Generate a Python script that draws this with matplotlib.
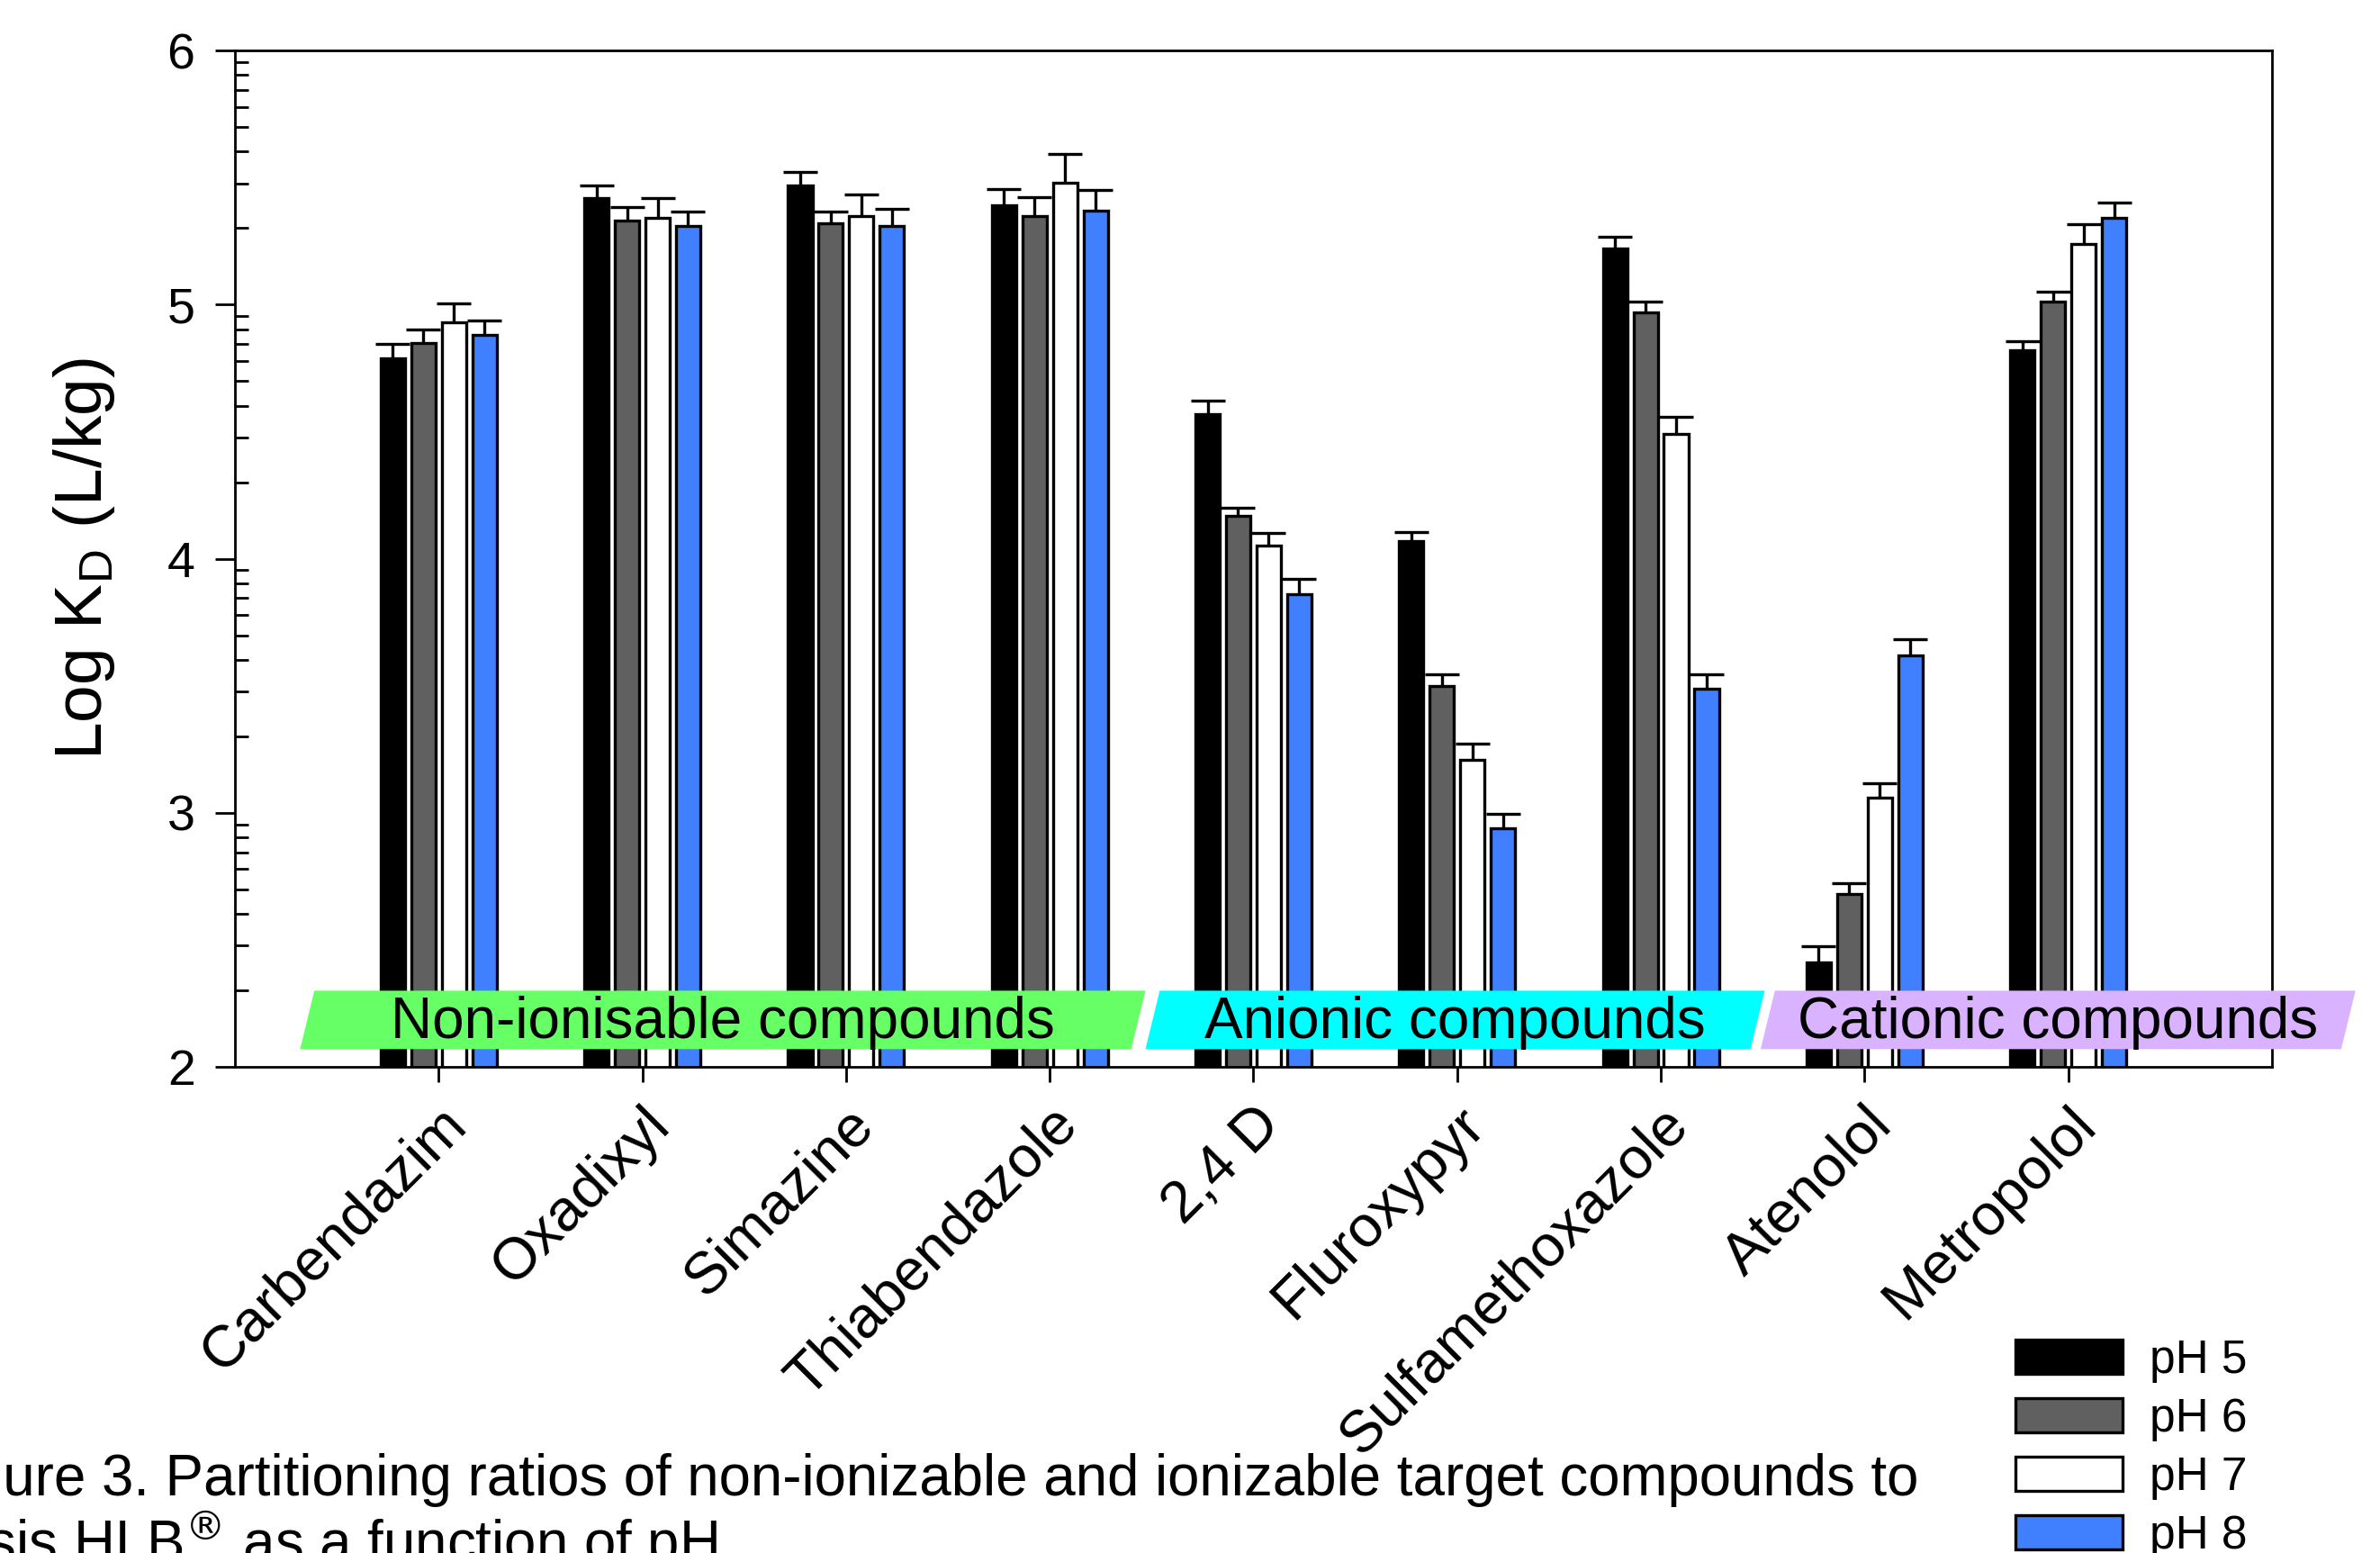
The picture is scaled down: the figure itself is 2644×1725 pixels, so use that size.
import numpy as np
import matplotlib.pyplot as plt
from matplotlib.patches import Polygon, Patch
from matplotlib.ticker import FixedLocator

plt.rcParams['font.family'] = ['Liberation Sans', 'DejaVu Sans']

# Data: log KD per compound at each pH, with upper error
compounds = ['Carbendazim', 'Oxadixyl', 'Simazine', 'Thiabendazole', '2,4 D',
             'Fluroxypyr', 'Sulfamethoxazole', 'Atenolol', 'Metropolol']
ph_labels = ['pH 5', 'pH 6', 'pH 7', 'pH 8']

ph5 = [4.79, 5.42, 5.47, 5.39, 4.57, 4.07, 5.22, 2.41, 4.82]
ph6 = [4.85, 5.33, 5.32, 5.35, 4.17, 3.50, 4.97, 2.68, 5.01]
ph7 = [4.93, 5.34, 5.35, 5.48, 4.05, 3.21, 4.49, 3.06, 5.24]
ph8 = [4.88, 5.31, 5.31, 5.37, 3.86, 2.94, 3.49, 3.62, 5.34]

err5 = [0.054, 0.049, 0.053, 0.066, 0.052, 0.035, 0.046, 0.065, 0.037]
err6 = [0.052, 0.054, 0.047, 0.071, 0.029, 0.046, 0.042, 0.042, 0.040]
err7 = [0.076, 0.079, 0.083, 0.114, 0.050, 0.061, 0.068, 0.058, 0.075]
err8 = [0.059, 0.056, 0.067, 0.080, 0.061, 0.057, 0.055, 0.064, 0.061]

group_names = ['Non-ionisable compounds', 'Anionic compounds', 'Cationic compounds']
group_colors = ['#66FF66', '#00FFFF', '#D9B3FF']

values = [ph5, ph6, ph7, ph8]
errors = [err5, err6, err7, err8]
bar_colors = ['#000000', '#606060', '#FFFFFF', '#4080FF']

# band extents along x (left/right at bottom edge) and height
band_edges = [(-0.68, 3.40), (3.47, 6.44), (6.49, 9.34)]
band_lo, band_hi, slant = 2.07, 2.30, 0.07

fig = plt.figure(figsize=(13.22, 8.625), dpi=200)
ax = fig.add_axes([0.0987, 0.313, 0.9546 - 0.0987, 0.9675 - 0.313])

x = np.arange(len(compounds))
step, width = 0.15, 0.12
for i in range(4):
    xi = x + (i - 1.5) * step
    ax.bar(xi, values[i], width, color=bar_colors[i], edgecolor='black',
           linewidth=1.2, zorder=2)
    eb = ax.errorbar(xi, values[i], yerr=[np.zeros(len(x)), errors[i]],
                     fmt='none', ecolor='black', elinewidth=1.2, capsize=7,
                     capthick=1.2, zorder=3)
    eb[1][0].set_visible(False)

# compound class bands across the bottom
for (x0, x1), name, col in zip(band_edges, group_names, group_colors):
    poly = Polygon([(x0, band_lo), (x1, band_lo), (x1 + slant, band_hi), (x0 + slant, band_hi)],
                   closed=True, facecolor=col, edgecolor='none', zorder=4, clip_on=False)
    ax.add_patch(poly)
    ax.text((x0 + x1 + slant) / 2, (band_lo + band_hi) / 2 - 0.01, name, ha='center',
            va='center', fontsize=23, zorder=5, clip_on=False)

ax.set_xlim(-1, 9)
ax.set_ylim(2, 6)
ax.set_xticks(x)
ax.set_xticklabels(compounds, rotation=45, ha='right', rotation_mode='anchor', fontsize=23.5)
ax.set_yticks([2, 3, 4, 5, 6])
minor = [n + np.log10(k) for n in range(2, 6) for k in range(2, 10)]
ax.yaxis.set_minor_locator(FixedLocator(minor))
ax.tick_params(axis='y', which='major', direction='out', length=8, width=1, labelsize=20, pad=8)
ax.tick_params(axis='y', which='minor', direction='in', length=5.5, width=1)
ax.tick_params(axis='x', which='major', direction='out', length=6, width=1, pad=6)
for s in ax.spines.values():
    s.set_linewidth(1)

ax.set_ylabel('Log K$_\\mathregular{D}$ (L/kg)', fontsize=27)
ax.yaxis.set_label_coords(-0.058, 0.5)

handles = [Patch(facecolor=c, edgecolor='black', linewidth=1.2) for c in bar_colors]
fig.legend(handles, ph_labels, loc='upper left', bbox_to_anchor=(0.847, 0.138),
           frameon=False, fontsize=18.5, handlelength=2.3, handleheight=0.75,
           handletextpad=0.6, labelspacing=0.31, borderpad=0, borderaxespad=0)

fig.text(-0.032, 0.037, 'Figure 3. Partitioning ratios of non-ionizable and ionizable target compounds to',
         fontsize=22.9, ha='left', va='baseline')
fig.text(-0.0375, -0.006, 'Oasis HLB$^{\\circledR}$ as a function of pH',
         fontsize=22.9, ha='left', va='baseline')

fig.savefig('out.png', dpi=200)
